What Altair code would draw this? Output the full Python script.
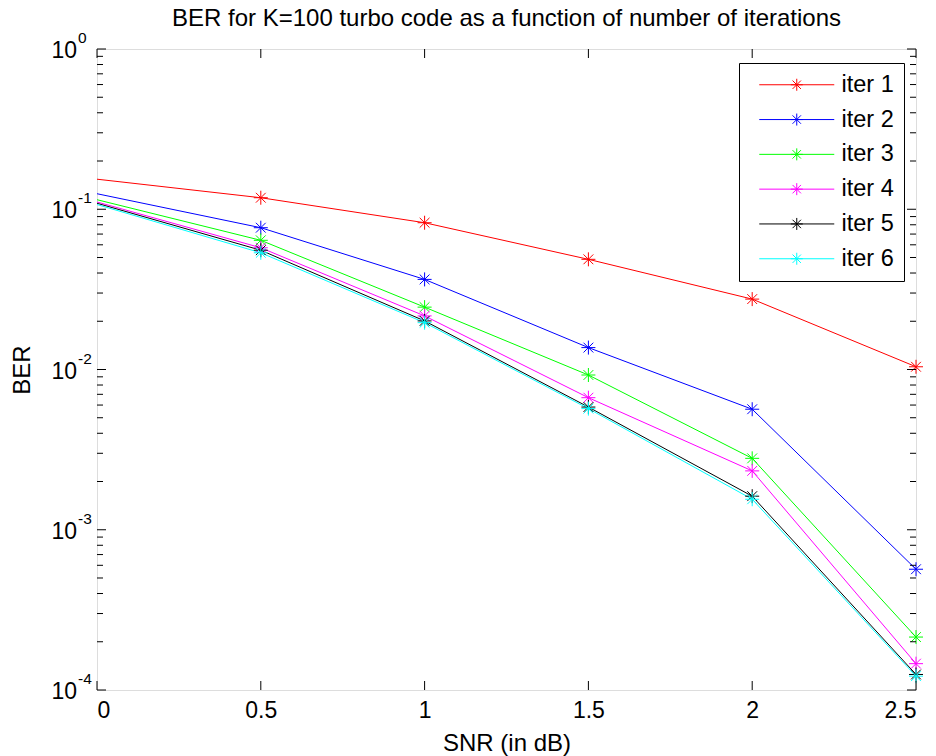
import altair as alt
import pandas as pd

snr = [0, 0.5, 1, 1.5, 2, 2.5]
series_names = ["iter 1", "iter 2", "iter 3", "iter 4", "iter 5", "iter 6"]
colors = ["#FF0000", "#0000FF", "#00FF00", "#FF00FF", "#000000", "#00FFFF"]
iter1 = [0.154, 0.118, 0.0824, 0.0487, 0.0275, 0.0104]
iter2 = [0.125, 0.0767, 0.0365, 0.0137, 0.00565, 0.000567]
iter3 = [0.1147, 0.064, 0.0245, 0.00924, 0.00279, 0.000214]
iter4 = [0.111, 0.0575, 0.0216, 0.00667, 0.00233, 0.000146]
iter5 = [0.109, 0.0555, 0.0201, 0.00583, 0.00162, 0.000125]
iter6 = [0.107, 0.0535, 0.0196, 0.0057, 0.00155, 0.000122]
x_ticks = [0, 0.5, 1, 1.5, 2, 2.5]
decades = [-4, -3, -2, -1, 0]
minor_mult = [2, 3, 4, 5, 6, 7, 8, 9]

W, H = 819, 641
FONT = "Liberation Sans"

rows = []
for name, vals in zip(series_names, [iter1, iter2, iter3, iter4, iter5, iter6]):
    for x, v in zip(snr, vals):
        rows.append({"snr": x, "ber": v, "series": name})
df = pd.DataFrame(rows)

major_df = pd.DataFrame({"v": [10.0 ** e for e in decades], "e": [str(e) for e in decades]})
minor_df = pd.DataFrame({"v": [m * 10.0 ** e for e in decades[:-1] for m in minor_mult]})
xt_df = pd.DataFrame({"x": x_ticks})

xscale = alt.Scale(domain=[0, 2.5], nice=False, zero=False)
yscale = alt.Scale(type="log", domain=[1e-4, 1], nice=False)

ASTER = "M-1,0L1,0M0,-1L0,1M-0.7,-0.7L0.7,0.7M-0.7,0.7L0.7,-0.7"
LEG_SYM = "M-5,0L5,0M-0.8,0L0.8,0M0,-0.8L0,0.8M-0.56,-0.56L0.56,0.56M-0.56,0.56L0.56,-0.56"

color = alt.Color(
    "series:N",
    scale=alt.Scale(domain=series_names, range=colors),
    legend=alt.Legend(
        title=None,
        orient="none",
        legendX=642,
        legendY=14,
        symbolType=LEG_SYM,
        symbolSize=225,
        symbolStrokeWidth=1,
        symbolOffset=36,
        labelOffset=33,
        labelFont=FONT,
        labelFontSize=23.5,
        labelColor="#000000",
        rowPadding=9.8,
        padding=10,
        strokeColor="#000000",
        fillColor="#FFFFFF",
    ),
)

base = alt.Chart(df).encode(
    x=alt.X(
        "snr:Q",
        scale=xscale,
        axis=alt.Axis(
            values=x_ticks, format="~g", grid=False, ticks=False, domain=False,
            labelFont=FONT, labelFontSize=23, labelColor="#000000", labelPadding=9,
            title="SNR (in dB)", titleFont=FONT, titleFontSize=24, titleFontWeight="normal",
            titleColor="#000000", titlePadding=9,
        ),
    ),
    y=alt.Y(
        "ber:Q",
        scale=yscale,
        axis=alt.Axis(
            labels=False, grid=False, ticks=False, domain=False,
            title="BER", titleFont=FONT, titleFontSize=24, titleFontWeight="normal",
            titleColor="#000000", titlePadding=63,
        ),
    ),
    color=color,
)

lines = base.mark_line(strokeWidth=1)
points = base.mark_point(shape=ASTER, filled=False, size=196, strokeWidth=1, opacity=1).transform_filter(
    "datum.snr > 0"
)

# inward ticks
ytick_major_l = alt.Chart(major_df).mark_rule(color="#000000", strokeWidth=1).encode(
    y=alt.Y("v:Q", scale=yscale), x=alt.value(0), x2=alt.value(9))
ytick_major_r = alt.Chart(major_df).mark_rule(color="#000000", strokeWidth=1).encode(
    y=alt.Y("v:Q", scale=yscale), x=alt.value(W), x2=alt.value(W - 9))
ytick_minor_l = alt.Chart(minor_df).mark_rule(color="#000000", strokeWidth=1).encode(
    y=alt.Y("v:Q", scale=yscale), x=alt.value(0), x2=alt.value(6))
ytick_minor_r = alt.Chart(minor_df).mark_rule(color="#000000", strokeWidth=1).encode(
    y=alt.Y("v:Q", scale=yscale), x=alt.value(W), x2=alt.value(W - 6))
xtick_b = alt.Chart(xt_df).mark_rule(color="#000000", strokeWidth=1).encode(
    x=alt.X("x:Q", scale=xscale), y=alt.value(H), y2=alt.value(H - 9))
xtick_t = alt.Chart(xt_df).mark_rule(color="#000000", strokeWidth=1).encode(
    x=alt.X("x:Q", scale=xscale), y=alt.value(0), y2=alt.value(9))

# y labels 10^e
lab10 = alt.Chart(major_df).mark_text(
    align="right", baseline="middle", font=FONT, fontSize=23, color="#000000", dy=2
).encode(y=alt.Y("v:Q", scale=yscale), x=alt.value(-20), text=alt.value("10"))
labexp = alt.Chart(major_df).mark_text(
    align="left", baseline="middle", font=FONT, fontSize=15.5, color="#000000", dy=-11
).encode(y=alt.Y("v:Q", scale=yscale), x=alt.value(-19), text="e:N")

chart = alt.layer(
    lines, points,
    ytick_major_l, ytick_major_r, ytick_minor_l, ytick_minor_r, xtick_b, xtick_t,
    lab10, labexp,
).properties(
    width=W,
    height=H,
    title=alt.TitleParams(
        "BER for K=100 turbo code as a function of number of iterations",
        font=FONT, fontSize=24, fontWeight="normal", color="#000000",
        anchor="middle", offset=14, dy=14,
    ),
    autosize=alt.AutoSizeParams(type="none"),
    padding={"left": 97, "top": 49, "right": 20, "bottom": 66},
).configure_view(
    stroke="#000000", strokeWidth=1
).configure(background="#FFFFFF")

chart.save("out.html", embed_options={"renderer": "svg", "actions": False})
